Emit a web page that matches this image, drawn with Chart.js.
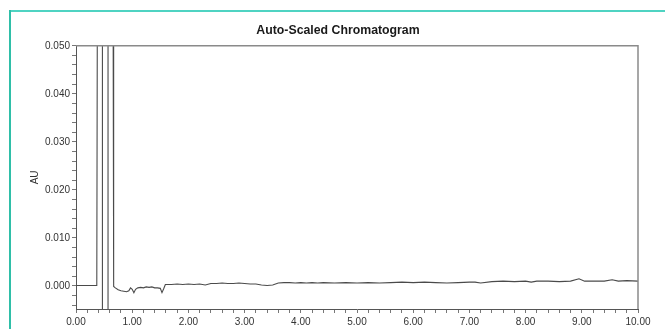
<!DOCTYPE html>
<html>
<head>
<meta charset="utf-8">
<script src="https://cdn.jsdelivr.net/npm/chart.js@4.4.1/dist/chart.umd.min.js"></script>
<style>
  html, body { margin: 0; padding: 0; background: #fff; overflow: hidden; }
  #wrap { position: relative; width: 665px; height: 329px; overflow: hidden; }
  #rule-top { position: absolute; left: 9px; top: 10px; width: 656px; height: 2px; background: #4fd3c2; }
  #rule-left { position: absolute; left: 9px; top: 10px; width: 2px; height: 319px; background: #2fbfa8; }
  #myChart { position: absolute; left: 0; top: 0; }
</style>
</head>
<body>
<div id="wrap">
  <div id="rule-top"></div>
  <div id="rule-left"></div>
  <canvas id="myChart" width="665" height="329"></canvas>
</div>
<script>
// retention time (min) and absorbance (AU)
var times = [0.00, 0.20, 0.37, 0.38, 0.47, 0.47, 0.57, 0.57, 0.66, 0.67,
  0.70, 0.75, 0.80, 0.85, 0.90, 0.94, 0.97, 1.00, 1.03, 1.06,
  1.10, 1.15, 1.20, 1.25, 1.30, 1.35, 1.40, 1.45, 1.50, 1.53,
  1.56, 1.59, 1.70, 1.80, 1.90, 2.00, 2.10, 2.20, 2.30, 2.40,
  2.50, 2.60, 2.70, 2.80, 2.90, 3.00, 3.10, 3.20, 3.30, 3.40,
  3.50, 3.60, 3.70, 3.80, 3.90, 4.00, 4.10, 4.20, 4.30, 4.40,
  4.60, 4.80, 5.00, 5.20, 5.40, 5.60, 5.80, 6.00, 6.20, 6.40,
  6.60, 6.80, 7.00, 7.10, 7.20, 7.40, 7.60, 7.80, 8.00, 8.10,
  8.20, 8.40, 8.60, 8.80, 8.95, 9.05, 9.20, 9.40, 9.54, 9.65,
  9.80, 10.00];
var absorbance = [0.0001, 0.0001, 0.0001, 0.06, 0.06, -0.01, -0.01, 0.06, 0.06, -0.0001,
  -0.0004, -0.0008, -0.0010, -0.0011, -0.0012, -0.0010, -0.0004, -0.0007, -0.0014, -0.0007,
  -0.0004, -0.0003, -0.0004, -0.0002, -0.0003, -0.0002, -0.0004, -0.0004, -0.0005, -0.0014,
  -0.0006, 0.0003, 0.0003, 0.0004, 0.0003, 0.0004, 0.0003, 0.0004, 0.0002, 0.0005,
  0.0005, 0.0006, 0.0005, 0.0005, 0.0006, 0.0005, 0.0004, 0.0004, 0.0002, 0.0001,
  0.0002, 0.0006, 0.0007, 0.0007, 0.0006, 0.0007, 0.0006, 0.0007, 0.0006, 0.0007,
  0.0006, 0.0007, 0.0006, 0.0007, 0.0006, 0.0007, 0.0008, 0.0007, 0.0008, 0.0007,
  0.0006, 0.0007, 0.0008, 0.0008, 0.0006, 0.0009, 0.0010, 0.0009, 0.0010, 0.0008,
  0.0010, 0.0010, 0.0009, 0.0010, 0.0015, 0.0010, 0.0010, 0.0010, 0.0013, 0.0010,
  0.0011, 0.0010];

var xTickLabels = ["0.00", "1.00", "2.00", "3.00", "4.00", "5.00", "6.00", "7.00", "8.00", "9.00", "10.00"];
var yTickLabels = ["0.000", "0.010", "0.020", "0.030", "0.040", "0.050"];

function showChart(){
    var points = [];
    for (var i = 0; i < times.length; i++) {
        points.push({x: times[i], y: absorbance[i]});
    }

    var font = {family: "'Liberation Sans', Arial, sans-serif", size: 10};

    // box line on top and right of plot area
    var framePlugin = {
        id: "frame",
        afterDraw: function(chart){
            var a = chart.chartArea, ctx = chart.ctx;
            ctx.save();
            ctx.strokeStyle = "#8a8a8a";
            ctx.lineWidth = 1.5;
            ctx.beginPath();
            ctx.moveTo(a.left, a.top);
            ctx.lineTo(a.right, a.top);
            ctx.lineTo(a.right, a.bottom);
            ctx.stroke();
            ctx.restore();
        }
    };

    new Chart("myChart", {
        type: "line",
        data: {
          datasets: [{
            data: points,
            borderColor: "#4a4a4a",
            borderWidth: 1.1,
            pointRadius: 0,
            tension: 0,
            clip: 0
          }]
        },
        plugins: [framePlugin],
        options: {
          responsive: false,
          animation: false,
          layout: { padding: { left: 38, right: 27, top: 0, bottom: 0 } },
          plugins: {
            legend: { display: false },
            tooltip: { enabled: false },
            title: {
              display: true,
              text: "Auto-Scaled Chromatogram",
              color: "#1a1a1a",
              font: {family: "'Liberation Sans', Arial, sans-serif", size: 12.3, weight: "bold"},
              padding: { top: 23, bottom: 8 }
            }
          },
          scales: {
            x: {
              type: "linear",
              min: 0,
              max: 10,
              afterFit: function(s){ s.height = 20; },
              afterBuildTicks: function(s){
                  var t = [];
                  for (var k = 0; k <= 50; k++) t.push({value: Math.round(k * 2) / 10});
                  s.ticks = t;
              },
              ticks: {
                autoSkip: false,
                maxRotation: 0,
                padding: 3,
                color: "#333",
                font: font,
                callback: function(v){
                    var r = Math.round(v);
                    return Math.abs(v - r) < 1e-6 ? xTickLabels[r] : "";
                }
              },
              grid: { drawOnChartArea: false, tickLength: 4, color: "#777" },
              border: { color: "#555", width: 1 }
            },
            y: {
              min: -0.0048,
              max: 0.05,
              afterFit: function(s){ s.width = 38; },
              afterBuildTicks: function(s){
                  var t = [];
                  for (var k = -2; k <= 25; k++) t.push({value: Math.round(k * 2) / 1000});
                  s.ticks = t;
              },
              ticks: {
                autoSkip: false,
                padding: 2,
                color: "#333",
                font: font,
                callback: function(v){
                    var r = Math.round(v / 0.01);
                    return (r >= 0 && Math.abs(v - r * 0.01) < 1e-7) ? yTickLabels[r] : "";
                }
              },
              title: {
                display: true,
                text: "AU",
                color: "#333",
                font: font,
                padding: { top: -9, bottom: 0 }
              },
              grid: { drawOnChartArea: false, tickLength: 4, color: "#777" },
              border: { color: "#555", width: 1 }
            }
          }
        }
      });
}

function loadItems(){
    showChart();
}

window.addEventListener("load", loadItems);
</script>
</body>
</html>
